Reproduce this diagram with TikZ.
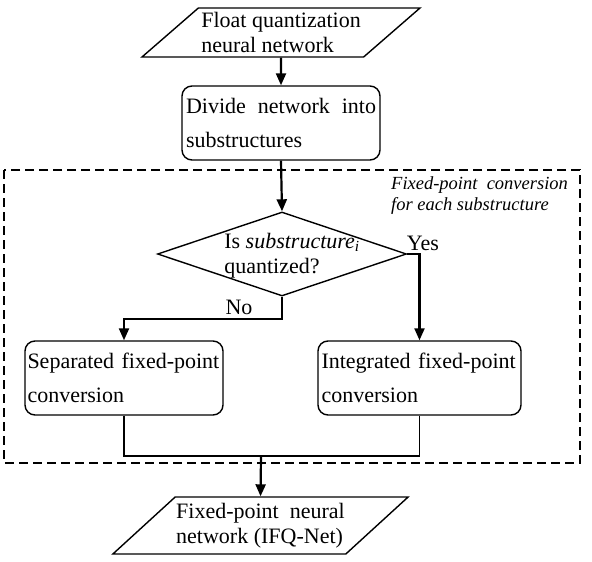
\documentclass[tikz,border=0pt]{standalone}
\usepackage{fontspec}
\setmainfont{Liberation Serif}
\usepackage{tikz}
\usetikzlibrary{arrows.meta}
\usetikzlibrary{positioning}
\usetikzlibrary{shapes.geometric}
\newcommand{\boxfont}{\fontsize{22}{34}\selectfont}
\newcommand{\tightfont}{\fontsize{22}{25}\selectfont}

\tikzset{
  iobox/.style={draw, line width=1.4pt, shape=trapezium, trapezium left angle=37,
      trapezium right angle=143, trapezium stretches body, inner sep=1pt,
      align=left, font=\tightfont},
  stepbox/.style={draw, line width=1.4pt, rounded corners=10pt, inner xsep=2pt,
      inner ysep=4pt, minimum height=74pt, align=left, font=\boxfont},
  flowarr/.style={line width=2.2pt, -{Triangle[length=12pt, width=10pt]}},
  flowline/.style={line width=1.5pt}
}

\begin{document}
\begin{tikzpicture}[x=1pt, y=-1pt]
      \useasboundingbox (0,0) rectangle (592,562);

      % outer frame for each substructure
      \draw[line width=1.6pt, dash pattern=on 9pt off 5pt] (4,170) rectangle (580,463);
      \node (note) [anchor=north west, align=left, inner sep=0pt,
          font=\fontsize{18.5}{21}\selectfont\itshape] at (391,176)
          {Fixed-point\ \ conversion\\for each substructure};

      \node (flt) [iobox, minimum width=278pt, minimum height=49pt] at (281,32.5)
          {Float quantization\\neural network};
      \node (div) [stepbox, minimum width=198pt, text width=190pt] at (281,123)
          {Divide\hfill network\hfill into\\substructures};
      \node (dec) [draw, line width=1.4pt, shape=diamond, inner sep=0pt,
          minimum width=249pt, minimum height=84pt] at (282,254) {};
      \node (dectxt) [align=left, font=\tightfont, inner sep=0pt] at (292,256)
          {Is \textit{substructure}\textsubscript{\textit{i}}\\quantized?};
      \node (sep) [stepbox, minimum width=198pt, text width=193pt] at (124,378)
          {Separated fixed-point\\conversion};
      \node (itg) [stepbox, minimum width=203pt, text width=196pt] at (419.5,378)
          {Integrated fixed-point\\conversion};
      \node (out) [iobox, minimum width=291pt, minimum height=57pt] at (260.5,525.5)
          {Fixed-point\ \ neural\\network (IFQ-Net)};

      \node (yes) [font=\tightfont, inner sep=0pt] at (423,243) {Yes};
      \node (no) [font=\tightfont, inner sep=0pt] at (239,307) {No};

      \coordinate (join) at (261,456);

      \draw[flowarr] (flt.south) -- (div.north);
      \draw[flowarr] (div.south) -- (dec.north);
      \draw[flowarr] (dec.east) -| (itg.north);
      \draw[flowarr] (dec.south) -- ++(0,22) -| (sep.north);
      \draw[flowline] (sep.south) |- (join);
      \draw[flowline] (itg.south) |- (join);
      \draw[flowarr] (join) -- (out.north);
    \end{tikzpicture}
\end{document}
